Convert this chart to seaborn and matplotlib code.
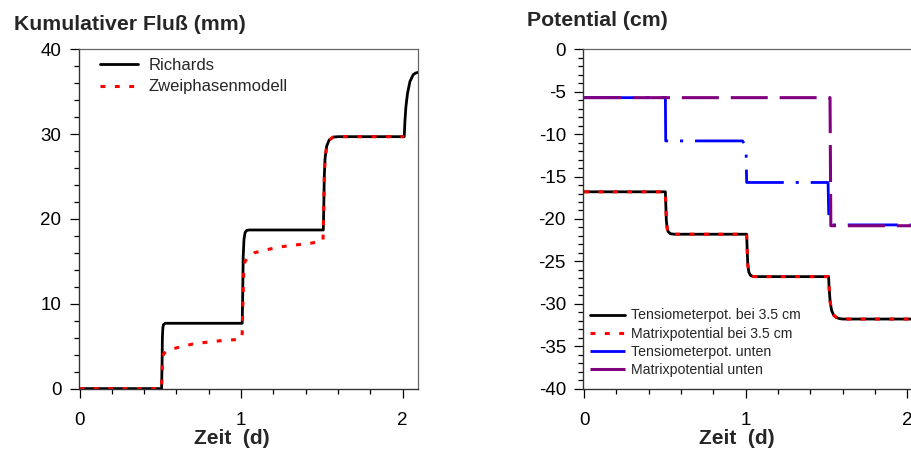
import matplotlib
matplotlib.use("Agg")
import matplotlib.pyplot as plt
from matplotlib.ticker import MultipleLocator
import seaborn as sns

# ---- cumulative flux (mm) ----
t_richards = [0.0, 0.508, 0.511, 0.513, 0.516, 0.52, 0.53, 1.007, 1.010, 1.013,
              1.018, 1.025, 1.035, 1.05, 1.509, 1.512, 1.515, 1.52, 1.53, 1.545,
              1.57, 1.60, 2.010, 2.014, 2.02, 2.03, 2.045, 2.065, 2.08, 2.1]
q_richards = [0.0, 0.0, 3.0, 6.0, 7.2, 7.55, 7.7, 7.7, 11.0, 15.5,
              17.6, 18.4, 18.65, 18.7, 18.7, 21.5, 25.0, 27.2, 28.6, 29.3,
              29.65, 29.7, 29.7, 31.5, 33.2, 34.8, 36.2, 37.0, 37.2, 37.3]

t_twophase = [0.0, 0.508, 0.511, 0.514, 0.52, 0.54, 0.56, 0.62, 0.70, 0.80,
              0.90, 1.0, 1.007, 1.011, 1.016, 1.024, 1.045, 1.08, 1.14, 1.24,
              1.32, 1.42, 1.507, 1.512, 1.515, 1.52, 1.53, 1.545, 1.57, 1.60,
              2.010]
q_twophase = [0.0, 0.0, 2.0, 3.5, 4.1, 4.4, 4.6, 4.9, 5.25, 5.5,
              5.7, 5.8, 6.5, 10.0, 13.5, 15.0, 15.5, 16.0, 16.3, 16.7,
              16.9, 17.1, 17.4, 21.5, 25.0, 27.2, 28.6, 29.3, 29.65, 29.7,
              29.7]

# ---- potentials (cm) ----
t_tens_35 = [0.0, 0.503, 0.506, 0.509, 0.514, 0.52, 0.535, 0.56, 1.006, 1.009,
             1.013, 1.02, 1.03, 1.045, 1.065, 1.513, 1.517, 1.523, 1.532, 1.545,
             1.56, 1.58, 1.60, 2.1]
h_tens_35 = [-16.8, -16.8, -18.5, -20.2, -21.1, -21.5, -21.75, -21.8, -21.8, -23.5,
             -25.4, -26.3, -26.65, -26.78, -26.8, -26.8, -28.3, -29.8, -30.8, -31.35,
             -31.6, -31.75, -31.8, -31.8]

t_matrix_35 = [0.0, 0.503, 0.506, 0.509, 0.514, 0.52, 0.535, 0.56, 1.006, 1.009,
               1.013, 1.02, 1.03, 1.045, 1.065, 1.513, 1.517, 1.523, 1.532, 1.545,
               1.56, 1.58, 1.60, 2.1]
h_matrix_35 = [-16.8, -16.8, -18.5, -20.2, -21.1, -21.5, -21.75, -21.8, -21.8, -23.5,
               -25.4, -26.3, -26.65, -26.78, -26.8, -26.8, -28.3, -29.8, -30.8, -31.35,
               -31.6, -31.75, -31.8, -31.8]

t_tens_low = [0.0, 0.503, 0.505, 0.98, 0.995, 1.003, 1.006, 1.51, 1.513, 1.516,
              1.53, 2.1]
h_tens_low = [-5.7, -5.7, -10.8, -10.8, -11.2, -12.5, -15.7, -15.7, -18.8, -20.3,
              -20.7, -20.7]

t_matrix_low = [0.0, 1.522, 1.527, 2.1]
h_matrix_low = [-5.7, -5.7, -20.8, -20.8]

sns.set_style("ticks")
plt.rcParams["font.family"] = ["Liberation Sans", "DejaVu Sans"]
plt.rcParams["axes.unicode_minus"] = False

fig = plt.figure(figsize=(9.12, 4.54), dpi=100)
W, H = 912.0, 454.0
ax1 = fig.add_axes([78.7 / W, 1 - 388.6 / H, 339.3 / W, 339.3 / H])
ax2 = fig.add_axes([583.3 / W, 1 - 388.6 / H, 339.3 / W, 339.3 / H])

common = dict(estimator=None, sort=False)

sns.lineplot(x=t_richards, y=q_richards, ax=ax1, color="black", lw=2.0,
             label="Richards", **common)
sns.lineplot(x=t_twophase, y=q_twophase, ax=ax1, color="#ff0000", lw=2.2,
             linestyle=(0, (1.6, 3.1)), label="Zweiphasenmodell", **common)

sns.lineplot(x=t_tens_35, y=h_tens_35, ax=ax2, color="black", lw=2.0,
             label="Tensiometerpot. bei 3.5 cm", **common)
sns.lineplot(x=t_matrix_35, y=h_matrix_35, ax=ax2, color="#ff0000", lw=2.2,
             linestyle=(0, (1.6, 3.1)), label="Matrixpotential bei 3.5 cm", **common)
sns.lineplot(x=t_tens_low, y=h_tens_low, ax=ax2, color="#0000ff", lw=2.0,
             linestyle=(0, (18, 4.3, 1.1, 4.3)), label="Tensiometerpot. unten", **common)
sns.lineplot(x=t_matrix_low, y=h_matrix_low, ax=ax2, color="#800080", lw=2.2,
             linestyle=(0, (12.1, 3.9)), label="Matrixpotential unten", **common)

for ax in (ax1, ax2):
    ax.set_xlim(-0.005, 2.095)
    ax.xaxis.set_major_locator(MultipleLocator(1))
    ax.xaxis.set_minor_locator(MultipleLocator(0.2))
    ax.tick_params(axis="both", which="major", direction="out", length=6.5,
                   width=0.9, color="black", labelsize=13.5, labelcolor="black")
    ax.tick_params(axis="both", which="minor", direction="out", length=3.4,
                   width=0.9, color="black")
    ax.tick_params(axis="x", which="major", pad=10)
    ax.tick_params(axis="y", which="major", pad=6)
    ax.tick_params(top=False, right=False, which="both")
    for side in ("left", "bottom"):
        ax.spines[side].set_color("#333333")
        ax.spines[side].set_linewidth(1.0)
    for side in ("top", "right"):
        ax.spines[side].set_visible(True)
        ax.spines[side].set_color("#666666")
        ax.spines[side].set_linewidth(0.9)
    ax.set_ylabel("")
    ax.set_xlabel("Zeit  (d)", fontsize=15, fontweight="bold")
    ax.xaxis.set_label_coords(0.452, -0.12)

ax1.set_ylim(0, 40)
ax1.yaxis.set_major_locator(MultipleLocator(10))
ax1.yaxis.set_minor_locator(MultipleLocator(2))

ax2.set_ylim(-40, 0)
ax2.yaxis.set_major_locator(MultipleLocator(5))
ax2.yaxis.set_minor_locator(MultipleLocator(1))

h1, l1 = ax1.get_legend_handles_labels()
ax1.legend(h1, l1, loc="upper left", bbox_to_anchor=(100 / W, 1 - 58 / H),
           bbox_transform=fig.transFigure, frameon=False, fontsize=12,
           borderpad=0, borderaxespad=0, handlelength=2.3, handletextpad=0.6,
           labelspacing=0.39)

h2, l2 = ax2.get_legend_handles_labels()
ax2.legend(h2, l2, loc="upper left", bbox_to_anchor=(590 / W, 1 - 308.5 / H),
           bbox_transform=fig.transFigure, frameon=False, fontsize=10.2,
           borderpad=0, borderaxespad=0, handlelength=2.45, handletextpad=0.45,
           labelspacing=0.30)

fig.text(14 / W, 1 - 30 / H, "Kumulativer Fluß (mm)", fontsize=15.3,
         fontweight="bold", ha="left", va="baseline")
fig.text(526.7 / W, 1 - 26 / H, "Potential (cm)", fontsize=15.3,
         fontweight="bold", ha="left", va="baseline")

fig.savefig("out.png", dpi=100)
